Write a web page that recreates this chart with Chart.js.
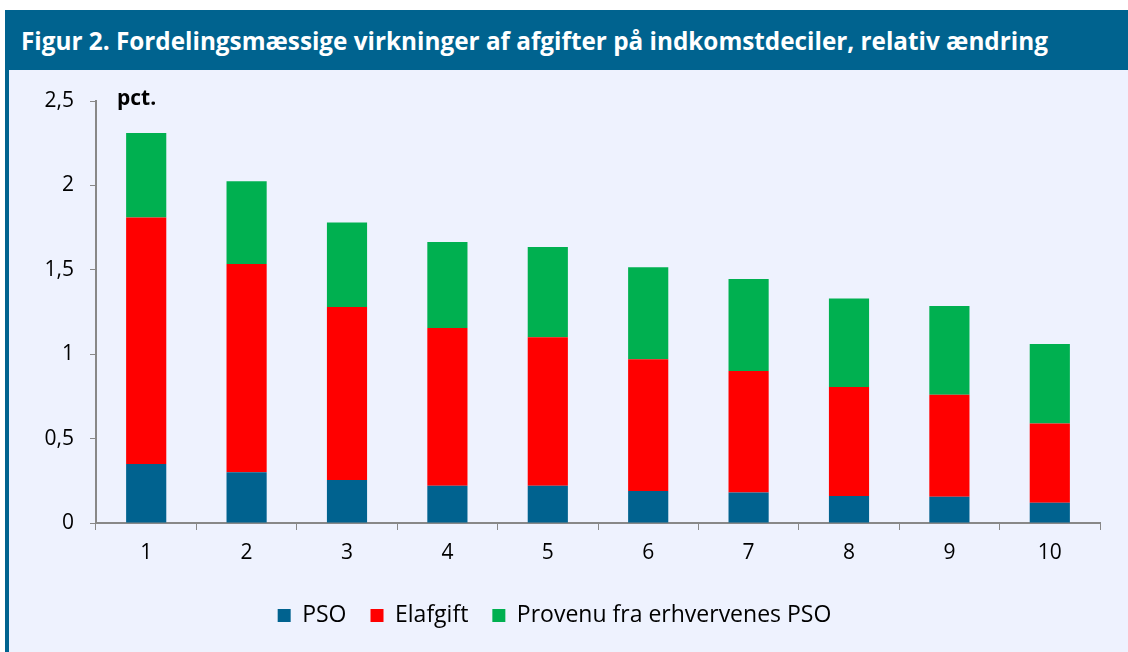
<!DOCTYPE html>
<html>
<head>
<meta charset="utf-8">
<script src="https://cdn.jsdelivr.net/npm/chart.js@4/dist/chart.umd.min.js"></script>
<style>
  html, body { margin: 0; padding: 0; background: #fff; }
  #fig { position: absolute; left: 5px; top: 10px; width: 1123px; height: 642px; }
  #title {
    height: 60px; background: #00638F; color: #fff;
    font-family: "Open Sans", sans-serif; font-weight: bold; font-size: 24.3px;
    line-height: 62px; padding-left: 16px; box-sizing: border-box; white-space: nowrap;
  }
  #body { position: absolute; top: 60px; left: 0; width: 1123px; height: 582px;
    background: #EEF2FE; border-left: 4px solid #00638F; box-sizing: border-box; }
  #wrap { position: absolute; left: 0; top: 0; width: 1119px; height: 582px; }
</style>
</head>
<body>
<div id="fig">
  <div id="title">Figur 2. Fordelingsmæssige virkninger af afgifter på indkomstdeciler, relativ ændring</div>
  <div id="body"><div id="wrap"><canvas id="c"></canvas></div></div>
</div>
<script>
const deciles = ['1', '2', '3', '4', '5', '6', '7', '8', '9', '10'];
const pso = [0.35, 0.30, 0.255, 0.22, 0.22, 0.19, 0.18, 0.16, 0.155, 0.12];
const elafgift = [1.46, 1.235, 1.025, 0.935, 0.88, 0.78, 0.72, 0.645, 0.605, 0.47];
const provenu = [0.50, 0.49, 0.50, 0.51, 0.535, 0.545, 0.545, 0.525, 0.525, 0.47];
const yTicks = [0, 0.5, 1, 1.5, 2, 2.5];

const axisGray = '#888888';
const font = "'Open Sans', sans-serif";

const pctLabel = {
  id: 'pctLabel',
  afterDraw(chart) {
    const ctx = chart.ctx;
    ctx.save();
    ctx.font = "bold 21px " + font;
    ctx.fillStyle = '#000';
    ctx.textBaseline = 'middle';
    ctx.fillText('pct.', chart.chartArea.left + 21, chart.chartArea.top - 2);
    ctx.restore();
  }
};

new Chart(document.getElementById('c'), {
  type: 'bar',
  data: {
    labels: deciles,
    datasets: [
      { label: 'PSO', data: pso, backgroundColor: '#00628F' },
      { label: 'Elafgift', data: elafgift, backgroundColor: '#FF0000' },
      { label: 'Provenu fra erhvervenes PSO', data: provenu, backgroundColor: '#00B050' }
    ]
  },
  options: {
    responsive: true,
    maintainAspectRatio: false,
    animation: false,
    datasets: { bar: { categoryPercentage: 1, barPercentage: 0.4 } },
    layout: { padding: { left: 0, top: 31, right: 28, bottom: 15 } },
    plugins: {
      tooltip: { enabled: false },
      legend: {
        position: 'bottom',
        labels: {
          font: { family: font, size: 23 }, color: '#000',
          boxWidth: 13, boxHeight: 13, padding: 24
        }
      }
    },
    scales: {
      x: {
        stacked: true,
        grid: { display: true, drawOnChartArea: false, drawTicks: true, tickLength: 7, color: axisGray, offset: true },
        border: { display: true, color: axisGray, width: 2 },
        ticks: { font: { family: font, size: 21 }, color: '#000', padding: 10 },
        afterFit(scale) { scale.height = 57; }
      },
      y: {
        stacked: true,
        min: 0, max: 2.5,
        afterBuildTicks(scale) { scale.ticks = yTicks.map(v => ({ value: v })); },
        grid: { display: true, drawOnChartArea: false, drawTicks: true, tickLength: 6, color: axisGray },
        border: { display: true, color: axisGray, width: 2 },
        ticks: {
          font: { family: font, size: 21 }, color: '#000', padding: 16,
          callback: v => String(v).replace('.', ',')
        },
        afterFit(scale) { scale.width = 87; }
      }
    }
  },
  plugins: [pctLabel]
});
</script>
</body>
</html>
